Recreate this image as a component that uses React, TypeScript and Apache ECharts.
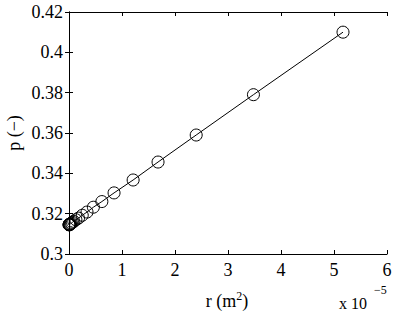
import React, { useEffect, useRef } from "react";
import * as echarts from "echarts";

// r in units of 1e-5 m^2
const rValues = [0.001, 0.002, 0.004, 0.007, 0.012, 0.02, 0.03, 0.045, 0.065, 0.09, 0.13, 0.18, 0.25, 0.34, 0.46, 0.62, 0.85, 1.21, 1.68, 2.40, 3.48, 5.17];
const pValues = [0.3145, 0.3145, 0.3145, 0.3146, 0.3147, 0.3148, 0.3150, 0.3153, 0.3157, 0.3162, 0.3170, 0.3178, 0.3192, 0.3208, 0.3232, 0.3260, 0.3303, 0.3367, 0.3456, 0.359, 0.379, 0.410];
const xTicks = [0, 1, 2, 3, 4, 5, 6];
const yTicks = [0.3, 0.32, 0.34, 0.36, 0.38, 0.4, 0.42];

const FONT = "'Liberation Serif', 'DejaVu Serif', serif";

export default function App() {
  const ref = useRef<HTMLDivElement>(null);
  useEffect(() => {
    const chart = echarts.init(ref.current!, undefined, { renderer: "svg" });
    const data = rValues.map((r, i) => [r, pValues[i]]);
    const axisCommon = {
      axisLine: { show: true, lineStyle: { color: "#000", width: 1 } },
      axisTick: { show: true, inside: true, length: 4, lineStyle: { color: "#000" } },
      splitLine: { show: false },
    };
    chart.setOption({
      animation: false,
      backgroundColor: "#fff",
      textStyle: { fontFamily: FONT },
      grid: { left: 69, top: 12, right: 9, bottom: 58, containLabel: false },
      xAxis: [
        {
          type: "value", min: xTicks[0], max: xTicks[xTicks.length - 1], interval: 1, position: "bottom",
          ...axisCommon,
          axisLabel: { color: "#000", fontFamily: FONT, fontSize: 18, margin: 7, formatter: (v: number) => String(v) },
        },
        {
          type: "value", min: xTicks[0], max: xTicks[xTicks.length - 1], interval: 1, position: "top",
          ...axisCommon, axisLabel: { show: false },
        },
      ],
      yAxis: [
        {
          type: "value", min: yTicks[0], max: yTicks[yTicks.length - 1], interval: 0.02, position: "left",
          ...axisCommon,
          axisLabel: { color: "#000", fontFamily: FONT, fontSize: 18, margin: 6, formatter: (v: number) => String(Math.round(v * 100) / 100) },
        },
        {
          type: "value", min: yTicks[0], max: yTicks[yTicks.length - 1], interval: 0.02, position: "right",
          ...axisCommon, axisLabel: { show: false },
        },
      ],
      series: [
        {
          type: "line",
          data,
          symbol: "circle",
          symbolSize: 12,
          showSymbol: true,
          lineStyle: { color: "#000", width: 1 },
          itemStyle: { color: "transparent", borderColor: "#000", borderWidth: 1 },
          silent: true,
        },
      ],
      graphic: [
        {
          type: "text",
          x: 227, y: 301,
          style: {
            text: "r (m{sup|2})",
            fontFamily: FONT,
            fontSize: 18,
            fill: "#000",
            textAlign: "center",
            textVerticalAlign: "middle",
            rich: { sup: { fontSize: 12, fontFamily: FONT, verticalAlign: "top", lineHeight: 22 } },
          },
        },
        {
          type: "text",
          x: 339, y: 303,
          style: { text: "x 10", fontFamily: FONT, fontSize: 16, fill: "#000", textAlign: "left", textVerticalAlign: "middle" },
        },
        {
          type: "text",
          x: 374, y: 290,
          style: { text: "\u22125", fontFamily: FONT, fontSize: 12, fill: "#000", textAlign: "left", textVerticalAlign: "middle" },
        },
        {
          type: "text",
          x: 14, y: 133,
          rotation: Math.PI / 2,
          style: { text: "p (\u2212)", fontFamily: FONT, fontSize: 18, fill: "#000", textAlign: "center", textVerticalAlign: "middle" },
        },
      ],
    });
    return () => chart.dispose();
  }, []);
  return <div ref={ref} style={{ width: 396, height: 312, position: "absolute", left: 0, top: 0 }} />;
}
